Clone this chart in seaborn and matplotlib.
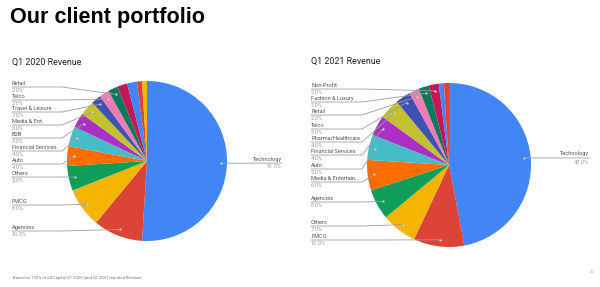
import numpy as np
import matplotlib
matplotlib.use("Agg")
import matplotlib.pyplot as plt
import seaborn as sns

# ---------------- data ----------------
names_2020 = ["Technology", "Agencies", "FMCG", "Others", "Auto", "Financial Services",
              "B2B", "Media & Ent.", "Travel & Leisure", "Telco", "Retail", "", "", "", ""]
values_2020 = [51, 10, 8, 5, 4, 4, 3, 3, 2, 2, 2, 2, 2, 1, 1]

names_2021 = ["Technology", "FMCG", "Others", "Agencies", "Media & Entertain...", "Auto",
              "Financial Services", "Pharma/Healthcare", "Telco", "Retail",
              "Fashion & Luxury", "Non-Profit", "", ""]
values_2021 = [47, 10, 7, 6, 6, 5, 4, 4, 3, 2, 2, 2, 1, 1]

palette_hex = ["#4285F4", "#DB4437", "#F4B400", "#0F9D58", "#FF6D00", "#46BDC6",
               "#AB30C4", "#C2C12E", "#3F51B5", "#F27BB5", "#0B7A5A", "#C2185B"]

# ---------------- layout ----------------
W, H = 600, 287
sns.set_theme(style="white")
plt.rcParams["font.family"] = ["Roboto", "DejaVu Sans"]

fig = plt.figure(figsize=(W / 100, H / 100), dpi=100)
ax = fig.add_axes([0, 0, 1, 1])

pal = sns.color_palette(palette_hex)


def Y(y):
    return H - y


def draw_pie(values, names, center, r, left_x, bend_x, label_ys, right_label):
    cols = [pal[i % len(pal)] for i in range(len(values))]
    wedges, _ = ax.pie(values, colors=cols, startangle=90, counterclock=False,
                       center=(center[0], Y(center[1])), radius=r,
                       wedgeprops=dict(linewidth=0), frame=True)
    li = 0
    for i, (w, nm) in enumerate(zip(wedges, names)):
        if not nm:
            continue
        th = np.deg2rad((w.theta1 + w.theta2) / 2)
        dx = center[0] + 0.92 * r * np.cos(th)
        dy = Y(center[1]) + 0.92 * r * np.sin(th)
        pct = f"{values[i]:.1f}%"
        if i == 0:
            rx, ly = right_label
            ax.plot([dx, rx], [dy, Y(ly)], color="#9e9e9e", lw=0.6, zorder=3)
            ax.text(rx, Y(ly - 4), nm, ha="right", va="center", fontsize=4.1, color="#555555")
            ax.text(rx, Y(ly + 4), pct, ha="right", va="center", fontsize=4.1, color="#9e9e9e")
        else:
            ly = label_ys[li]
            li += 1
            bx = min(bend_x, dx)
            ax.plot([left_x, bx, dx], [Y(ly), Y(ly), dy], color="#9e9e9e", lw=0.6, zorder=3)
            ax.text(left_x, Y(ly - 3.5), nm, ha="left", va="center", fontsize=4.1, color="#555555")
            ax.text(left_x, Y(ly + 3.5), pct, ha="left", va="center", fontsize=4.1, color="#9e9e9e")
        ax.plot([dx], [dy], marker="o", ms=1.3, color="#d9d9d9", mec="#bdbdbd", mew=0.3, zorder=4)


# label line y (pixel, top-down) from bottom slice upwards
ys_2020 = [231, 205, 177, 164, 151, 138, 125, 112, 100, 87]
ys_2021 = [240, 226, 202, 182, 169, 155, 142, 129, 115, 102, 89]

draw_pie(values_2020, names_2020, (147, 161), 80, 12, 62, ys_2020, (282, 163))
draw_pie(values_2021, names_2021, (449, 165), 82, 311, 362, ys_2021, (589, 158))

ax.set_xlim(0, W)
ax.set_ylim(0, H)
ax.set_aspect("equal", adjustable="box")
ax.axis("off")

# titles
ax.text(10, Y(17), "Our client portfolio", ha="left", va="center", fontsize=15.6,
        fontweight="bold", family=["Liberation Sans", "DejaVu Sans"], color="#000000")
ax.text(12, Y(62), "Q1 2020 Revenue", ha="left", va="center", fontsize=6.4, color="#222222")
ax.text(311, Y(61), "Q1 2021 Revenue", ha="left", va="center", fontsize=6.4, color="#222222")
ax.text(13, Y(278), "Based on 100% of S4 Capital Q1 2020 (and Q1 2021 reported Revenue",
        ha="left", va="center", fontsize=3, color="#777777")
ax.text(592, Y(272), "20", ha="center", va="center", fontsize=3, color="#aaaaaa")

fig.savefig("out.png", dpi=100)
